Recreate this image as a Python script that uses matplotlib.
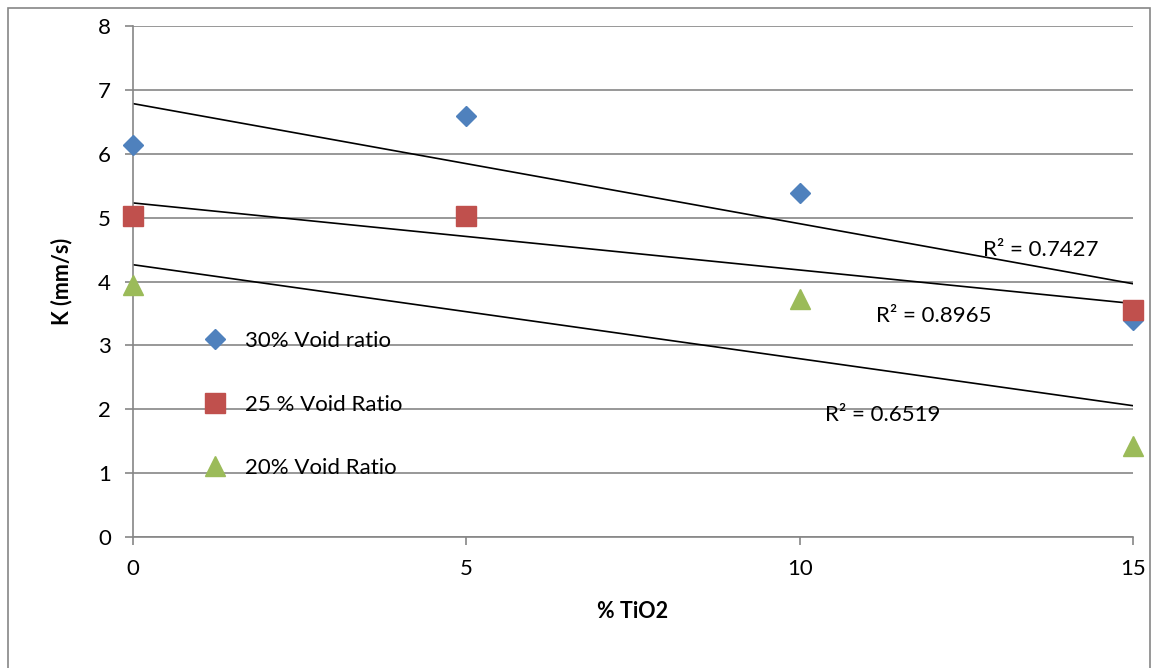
import matplotlib.pyplot as plt
import numpy as np
from matplotlib.patches import Rectangle

plt.rcParams['font.family'] = ['Lato', 'DejaVu Sans']

# K (mm/s) against % TiO2 for three void ratios
tio2 = [0, 5, 10, 15]
k_30 = [6.13, 6.59, 5.38, 3.40]
tio2_25 = [0, 5, 15]
k_25 = [5.02, 5.02, 3.55]
tio2_20 = [0, 10, 15]
k_20 = [3.95, 3.73, 1.43]
r2_labels = ["R² = 0.7427", "R² = 0.8965", "R² = 0.6519"]

blue = '#4F81BD'
red = '#C0504D'
green = '#9BBB59'
grid = '#868686'

fig = plt.figure(figsize=(11.54, 6.68), dpi=100)
ax = fig.add_axes([133 / 1154, 131 / 668, 1000 / 1154, 511 / 668])

# chart border
fig.patches.append(Rectangle((8 / 1154, -0.05), 1142 / 1154, 1.05 - 8 / 668,
                             transform=fig.transFigure, fill=False,
                             edgecolor=grid, linewidth=1.2))

ax.plot(tio2, k_30, 'D', color=blue, markersize=10, label='30% Void ratio',
        zorder=3, clip_on=False)
ax.plot(tio2_25, k_25, 's', color=red, markersize=14, label='25 % Void Ratio',
        zorder=4, clip_on=False)
ax.plot(tio2_20, k_20, '^', color=green, markersize=14, label='20% Void Ratio',
        zorder=3, clip_on=False)

# linear trend lines
xs = np.array([0, 15])
for x, y in [(tio2, k_30), (tio2_25, k_25), (tio2_20, k_20)]:
    m, b = np.polyfit(x, y, 1)
    ax.plot(xs, m * xs + b, color='black', linewidth=1.2, zorder=2)

ax.text(12.75, 4.49, r2_labels[0], fontsize=16, va='center', ha='left')
ax.text(11.15, 3.46, r2_labels[1], fontsize=16, va='center', ha='left')
ax.text(10.38, 1.91, r2_labels[2], fontsize=16, va='center', ha='left')

ax.set_xlim(0, 15)
ax.set_ylim(0, 8)
ax.set_xticks([0, 5, 10, 15])
ax.set_yticks(range(0, 9))
ax.yaxis.grid(True, color=grid, linewidth=1.2)
ax.set_axisbelow(True)
for s in ['top', 'right']:
    ax.spines[s].set_visible(False)
for s in ['left', 'bottom']:
    ax.spines[s].set_color(grid)
    ax.spines[s].set_linewidth(1.2)
ax.tick_params(axis='both', colors=grid, labelcolor='black', labelsize=16,
               length=6, width=1.2)
ax.tick_params(axis='y', pad=10)
ax.tick_params(axis='x', pad=10)

ax.set_xlabel('% TiO2', fontsize=15.5, fontweight='bold', labelpad=16)
ax.set_ylabel('K (mm/s)', fontsize=15.5, fontweight='bold', labelpad=18)

ax.legend(loc='upper left', bbox_to_anchor=(0.051, 0.42), frameon=False,
          fontsize=16, labelspacing=1.95, handletextpad=0.35, borderaxespad=0)

fig.savefig('out.png', dpi=100)
